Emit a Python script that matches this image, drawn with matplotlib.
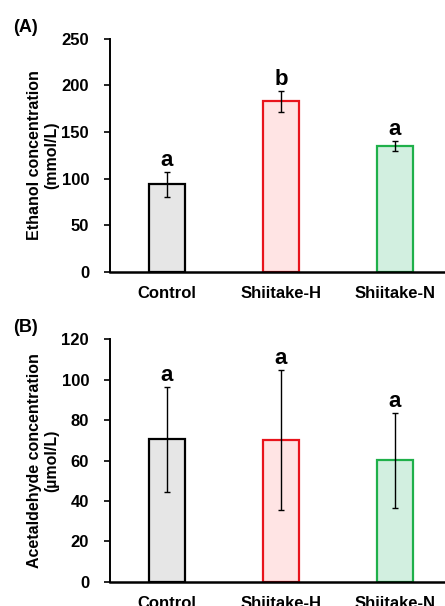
import matplotlib
matplotlib.use("Agg")
import matplotlib.pyplot as plt

plt.rcParams['font.family'] = ['Liberation Sans', 'DejaVu Sans']
plt.rcParams['font.weight'] = 'bold'

groups = ['Control', 'Shiitake-H', 'Shiitake-N']
face_colors = ['#e6e6e6', '#ffe4e4', '#d2efe0']
edge_colors = ['#000000', '#e8141c', '#1fb04a']

# Panel A: ethanol (mmol/L)
ethanol = [94, 183, 135]
ethanol_err = [13.5, 11, 5.5]
ethanol_letters = ['a', 'b', 'a']

# Panel B: acetaldehyde (umol/L)
acet = [70.5, 70.2, 60.2]
acet_err = [26, 34.5, 23.5]
acet_letters = ['a', 'a', 'a']

fig = plt.figure(figsize=(4.45, 6.06), dpi=100)
axA = fig.add_axes([0.247, 0.551, 0.753, 0.385])
axB = fig.add_axes([0.247, 0.040, 0.753, 0.400])


def draw(ax, vals, errs, letters, ymax, step, ylabel, letter_off, tag):
    x = list(range(len(groups)))
    ax.bar(x, vals, width=0.32, color=face_colors, edgecolor=edge_colors,
           linewidth=1.6, zorder=2)
    ax.errorbar(x, vals, yerr=errs, fmt='none', ecolor='black',
                elinewidth=1, capsize=2.2, capthick=1, zorder=3)
    for xi, v, e, l in zip(x, vals, errs, letters):
        ax.text(xi, v + e + letter_off, l, ha='center', va='baseline',
                fontsize=16, fontweight='bold')
    ax.set_xlim(-0.5, 2.44)
    ax.set_ylim(0, ymax)
    ax.set_yticks(range(0, ymax + 1, step))
    ax.set_xticks(x)
    ax.set_xticklabels(groups, fontsize=12, fontweight='bold')
    ax.tick_params(axis='x', length=0, pad=10)
    ax.tick_params(axis='y', direction='out', length=4, width=1.2,
                   labelsize=12, pad=11)
    for lab in ax.get_yticklabels():
        lab.set_fontweight('bold')
    ax.spines['top'].set_visible(False)
    ax.spines['right'].set_visible(False)
    ax.spines['left'].set_linewidth(1.4)
    ax.spines['bottom'].set_linewidth(1.8)
    ax.set_ylabel(ylabel, fontsize=11.5, fontweight='bold', linespacing=1.25)
    ax.yaxis.set_label_coords(-0.15, 0.5)
    ax.text(-0.29, 1.048, tag, transform=ax.transAxes, fontsize=13,
            fontweight='bold', ha='left', va='center')


draw(axA, ethanol, ethanol_err, ethanol_letters, 250, 50,
     'Ethanol concentration\n(mmol/L)', 6.5, '(A)')
draw(axB, acet, acet_err, acet_letters, 120, 20,
     'Acetaldehyde concentration\n(\u00b5mol/L)', 3, '(B)')

fig.savefig('out.png', dpi=100)
